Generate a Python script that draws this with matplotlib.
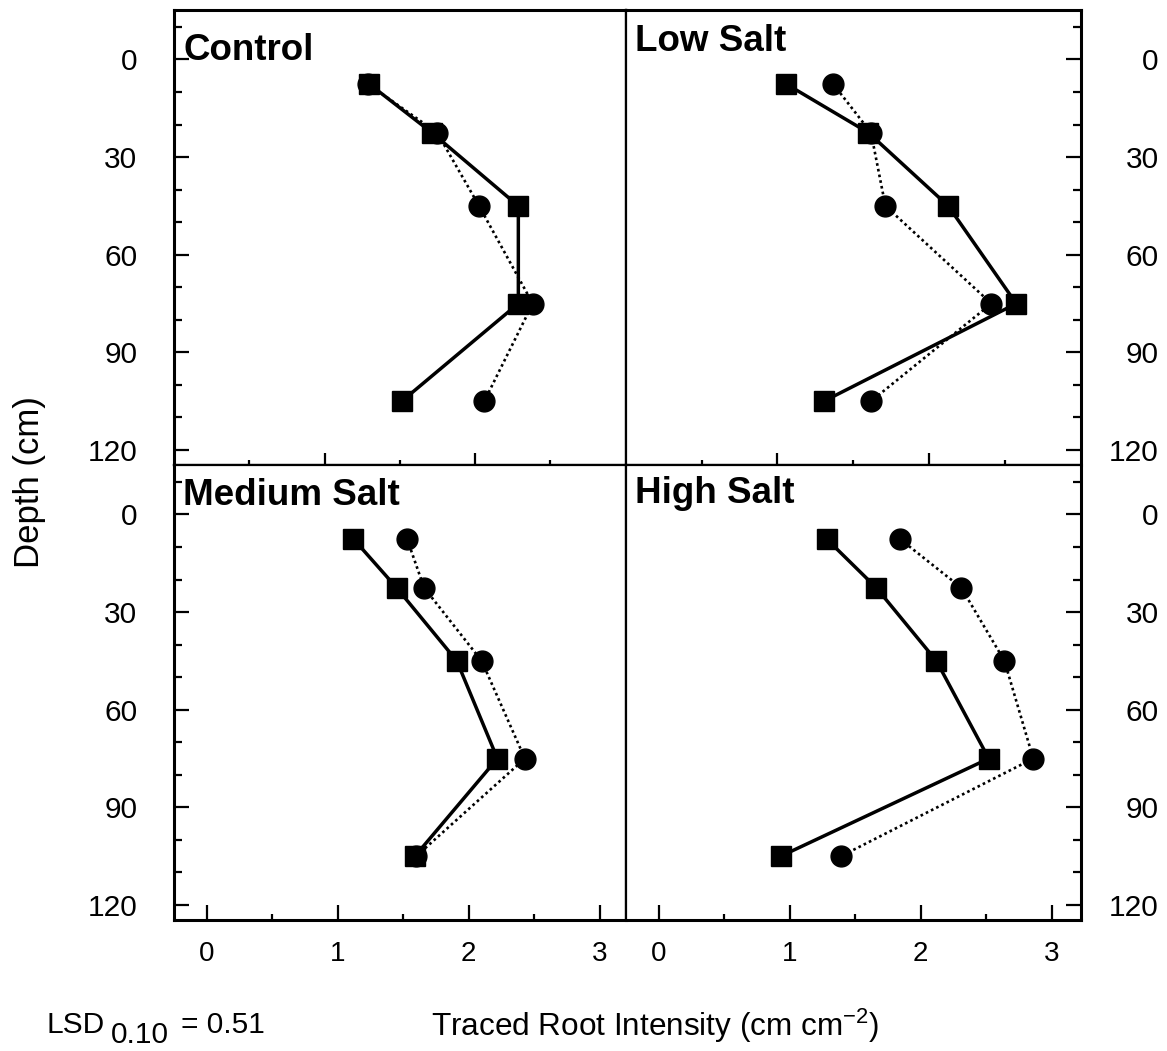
#!/usr/bin/env python3
"""
Root intensity vs. depth, four salinity treatments in a 2x2 block.
Squares / solid line and circles / dotted line per panel.
"""
import matplotlib
matplotlib.use("Agg")
import matplotlib.pyplot as plt
from matplotlib.ticker import MultipleLocator, FixedLocator

# ------------------- DATA -------------------
depths = [7.5, 22.5, 45, 75, 105]          # cm, layer mid-points

panel_names = ["Control", "Low Salt", "Medium Salt", "High Salt"]

# solid line, square markers
control_sq = [1.24, 1.72, 2.38, 2.38, 1.49]
low_sq = [0.97, 1.60, 2.21, 2.73, 1.26]
medium_sq = [1.12, 1.45, 1.91, 2.22, 1.59]
high_sq = [1.28, 1.66, 2.12, 2.52, 0.93]

# dotted line, circle markers
control_ci = [1.23, 1.76, 2.08, 2.49, 2.12]
low_ci = [1.33, 1.62, 1.73, 2.54, 1.62]
medium_ci = [1.53, 1.66, 2.10, 2.43, 1.60]
high_ci = [1.84, 2.31, 2.64, 2.86, 1.39]

x_ticklabels = ["0", "1", "2", "3"]
y_ticklabels = ["0", "30", "60", "90", "120"]
lsd_value = "0.51"
# ------------------------------------------------

plt.rcParams["font.family"] = ["Liberation Sans", "DejaVu Sans"]
plt.rcParams["mathtext.fontset"] = "custom"
plt.rcParams["mathtext.rm"] = "Liberation Sans"
plt.rcParams["mathtext.it"] = "Liberation Sans:italic"
plt.rcParams["mathtext.bf"] = "Liberation Sans:bold"

W, H = 1167, 1051
fig = plt.figure(figsize=(W / 100, H / 100), dpi=100)


def box(x0, y0, x1, y1):
    """pixel box (top-left origin) -> figure fraction rect"""
    return [x0 / W, 1 - y1 / H, (x1 - x0) / W, (y1 - y0) / H]


X_L, X_M, X_R = 174, 625.7, 1081
Y_T, Y_M, Y_B = 10, 465, 920

rects = [box(X_L, Y_T, X_M, Y_M), box(X_M, Y_T, X_R, Y_M),
         box(X_L, Y_M, X_M, Y_B), box(X_M, Y_M, X_R, Y_B)]
xlims = [(-0.25, 3.20), (-0.255, 3.225), (-0.25, 3.20), (-0.255, 3.225)]
title_y = [0.89, 0.909, 0.912, 0.916]

squares = [control_sq, low_sq, medium_sq, high_sq]
circles = [control_ci, low_ci, medium_ci, high_ci]

for i, name in enumerate(panel_names):
    ax = fig.add_axes(rects[i])
    top = i < 2
    left = i % 2 == 0

    ax.plot(circles[i], depths, color="black", lw=1.9, ls=(0, (1, 1.2)),
            marker="o", ms=15, mec="black", mfc="black", zorder=3)
    ax.plot(squares[i], depths, color="black", lw=2.5, ls="-",
            marker="s", ms=14.5, mec="black", mfc="black", zorder=4)

    ax.set_xlim(*xlims[i])
    ax.set_ylim(124.6, -15.2)

    # outer edges heavier than the dividers
    for side, sp in ax.spines.items():
        outer = ((side == "top" and top) or (side == "bottom" and not top)
                 or (side == "left" and left) or (side == "right" and not left))
        sp.set_linewidth(2.2 if outer else 1.6)

    # depth axis
    ax.yaxis.set_major_locator(FixedLocator([0, 30, 60, 90, 120]))
    ax.yaxis.set_minor_locator(MultipleLocator(10))
    ax.set_yticklabels(y_ticklabels)
    ax.tick_params(axis="y", which="both", direction="in", width=1.6,
                   left=left, right=not left,
                   labelleft=left, labelright=not left, labelsize=21.5)
    ax.tick_params(axis="y", which="major", length=10.5,
                   pad=26.5 if left else 56)
    ax.tick_params(axis="y", which="minor", length=5.5)
    if not left:
        for lbl in ax.yaxis.get_majorticklabels():
            lbl.set_horizontalalignment("right")

    if top:
        ax.tick_params(axis="x", which="both", bottom=False, top=False,
                       labelbottom=False)
        # the upper row carries its own 0-3 tick scale, unlabelled
        tx = ax.twiny()
        tx.set_xlim(0, 3)
        tx.xaxis.set_ticks_position("bottom")
        tx.xaxis.set_major_locator(FixedLocator([1, 2]))
        tx.xaxis.set_minor_locator(FixedLocator([0.5, 1.5, 2.5]))
        tx.tick_params(axis="x", which="both", direction="in", width=1.6,
                       labelbottom=False, labeltop=False)
        tx.tick_params(axis="x", which="major", length=9)
        tx.tick_params(axis="x", which="minor", length=3.5)
        for sp in tx.spines.values():
            sp.set_visible(False)
    else:
        ax.xaxis.set_major_locator(FixedLocator([0, 1, 2, 3]))
        ax.xaxis.set_minor_locator(MultipleLocator(0.5))
        ax.set_xticklabels(x_ticklabels)
        ax.tick_params(axis="x", which="both", direction="in", width=1.6,
                       top=False, labelsize=20)
        ax.tick_params(axis="x", which="major", length=11, pad=15)
        ax.tick_params(axis="x", which="minor", length=4.5)

    ax.text(0.02, title_y[i], name, transform=ax.transAxes,
            fontsize=26.5, fontweight="bold", va="baseline", ha="left")

fig.text(29 / W, 1 - 482 / H, "Depth (cm)", rotation=90,
         ha="center", va="center", fontsize=25)
fig.text(655 / W, 1 - 1036 / H, "Traced Root Intensity (cm cm$^{-2}$)",
         ha="center", va="baseline", fontsize=22.7)

# LSD note, subscript kept at full size and just dropped
fig.text(46 / W, 1 - 1033 / H, "LSD", ha="left", va="baseline", fontsize=21.5)
fig.text(111 / W, 1 - 1043 / H, "0.10", ha="left", va="baseline", fontsize=21.5)
fig.text(181 / W, 1 - 1033 / H, "= " + lsd_value, ha="left", va="baseline",
         fontsize=21.5)

fig.savefig("out.png", dpi=100, facecolor="white")
